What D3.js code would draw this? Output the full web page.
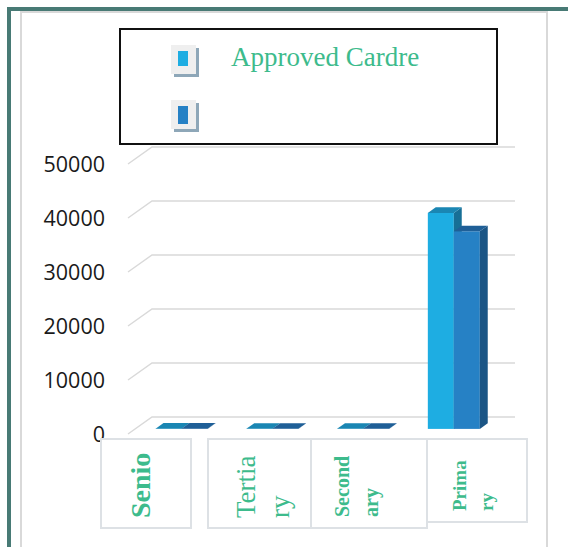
<!DOCTYPE html>
<html>
<head>
<meta charset="utf-8">
<script src="https://cdn.jsdelivr.net/npm/d3@7"></script>
<style>
  body { margin: 0; background: #fff; }
  svg { display: block; }
</style>
</head>
<body>
<svg id="chart"></svg>
<script>
// data
const categories = ["Senior", "Tertiary", "Secondary", "Primary"];
const categoryLines = [["Senio"], ["Tertia", "ry"], ["Second", "ary"], ["Prima", "ry"]];
const seriesNames = ["Approved Cardre", ""];
const approvedCadre = [40, 30, 30, 40000];
const inPosition = [40, 30, 30, 36600];
const yTicks = [0, 10000, 20000, 30000, 40000, 50000];

const width = 568, height = 547;
const svg = d3.select("#chart").attr("width", width).attr("height", height);

// colours: front, top, side
const palette = [
  { front: "#1eade2", top: "#1a86b3", side: "#176f96", mark: "#1eade2" },
  { front: "#2681c5", top: "#1f5f97", side: "#1b5585", mark: "#2681c5" }
];
const green = "#3dbb8c";

// outer frame
svg.append("rect").attr("x", 21).attr("y", 12).attr("width", 526).attr("height", 545)
  .attr("fill", "none").attr("stroke", "#d9d9d9").attr("stroke-width", 2);
svg.append("rect").attr("x", 7).attr("y", 7).attr("width", width).attr("height", 4).attr("fill", "#487a75");
svg.append("rect").attr("x", 7).attr("y", 7).attr("width", 4).attr("height", height).attr("fill", "#487a75");

// scales (front plane), depth offset for the 3D look
const x = d3.scaleBand().domain(categories).range([128, 491]);
const y = d3.scaleLinear().domain([0, 50000]).range([434, 164]);
const depthX = 24, depthY = -17;
const d0 = 0.3, d1 = 0.63;
const barW = 26;

// gridlines: diagonal on the side wall, then across the back wall
const grid = svg.append("g");
yTicks.forEach(t => {
  const yf = y(t);
  grid.append("path")
    .attr("d", `M${x.range()[0]},${yf} L${x.range()[0] + depthX},${yf + depthY} L${x.range()[1] + depthX},${yf + depthY}`)
    .attr("fill", "none").attr("stroke", "#d9d9d9").attr("stroke-width", 1.5);
});

// y tick labels
svg.append("g").selectAll("text").data(yTicks).join("text")
  .attr("x", 105).attr("y", d => y(d))
  .attr("dy", "0.36em")
  .attr("text-anchor", "end")
  .attr("font-family", "'Open Sans', sans-serif")
  .attr("font-size", 21.5)
  .attr("fill", "#1a1a1a")
  .text(d => d);

// bars
const series = [approvedCadre, inPosition];
const bars = svg.append("g");
categories.forEach((c, i) => {
  const gx = x(c) + (x.bandwidth() - 2 * barW) / 2 + 1;
  series.forEach((vals, s) => {
    const xl = gx + s * barW, xr = xl + barW;
    const a0 = depthX * d0, a1 = depthX * d1, b0 = depthY * d0, b1 = depthY * d1;
    const yt = y(vals[i]), yb = y(0);
    const col = palette[s];
    bars.append("rect")
      .attr("x", xl + a0).attr("y", yt + b0)
      .attr("width", barW).attr("height", yb - yt)
      .attr("fill", col.front);
    bars.append("path")
      .attr("d", `M${xr + a0},${yt + b0} L${xr + a1},${yt + b1} L${xr + a1},${yb + b1} L${xr + a0},${yb + b0}Z`)
      .attr("fill", col.side);
    bars.append("path")
      .attr("d", `M${xl + a0},${yt + b0} L${xr + a0},${yt + b0} L${xr + a1},${yt + b1} L${xl + a1},${yt + b1}Z`)
      .attr("fill", col.top);
  });
});

// category label boxes (text boxes under the floor)
const boxLayout = [
  { x0: 101, x1: 191, y1: 528, size: 28, weight: "bold", lx: [150], by: 518 },
  { x0: 208, x1: 311, y1: 528, size: 27, weight: "normal", lx: [255, 289], by: 518 },
  { x0: 311, x1: 427, y1: 528, size: 20, weight: "bold", lx: [349, 378], by: 517 },
  { x0: 427, x1: 527, y1: 522, size: 19, weight: "bold", lx: [466, 493], by: 511 }
];
const lab = svg.append("g");
categoryLines.forEach((lines, i) => {
  const b = boxLayout[i];
  lab.append("rect").attr("x", b.x0).attr("y", 439)
    .attr("width", b.x1 - b.x0).attr("height", b.y1 - 439)
    .attr("fill", "#fff").attr("stroke", "#dde1e5").attr("stroke-width", 2);
  lines.forEach((t, j) => {
    lab.append("text")
      .attr("transform", `translate(${b.lx[j]},${b.by}) rotate(-90)`)
      .attr("font-family", "'Liberation Serif', 'Times New Roman', serif")
      .attr("font-size", b.size).attr("font-weight", b.weight)
      .attr("fill", green)
      .text(t);
  });
});

// legend
const legend = svg.append("g");
legend.append("rect").attr("x", 120).attr("y", 29).attr("width", 377).attr("height", 115)
  .attr("fill", "#fff").attr("stroke", "#111").attr("stroke-width", 2);
const legendY = [45, 100];
seriesNames.forEach((name, s) => {
  const ly = legendY[s];
  legend.append("rect").attr("x", 174).attr("y", ly + 3).attr("width", 25).attr("height", 29).attr("fill", "#8ea7b8");
  legend.append("rect").attr("x", 171).attr("y", ly).attr("width", 25).attr("height", 29).attr("fill", "#efefef");
  legend.append("rect").attr("x", 178).attr("y", ly + 6).attr("width", 10).attr("height", 15 + s * 3).attr("fill", palette[s].mark);
  legend.append("text").attr("x", 231).attr("y", ly + 21)
    .attr("font-family", "'Liberation Serif', 'Times New Roman', serif")
    .attr("font-size", 27).attr("fill", green)
    .text(name);
});
</script>
</body>
</html>
